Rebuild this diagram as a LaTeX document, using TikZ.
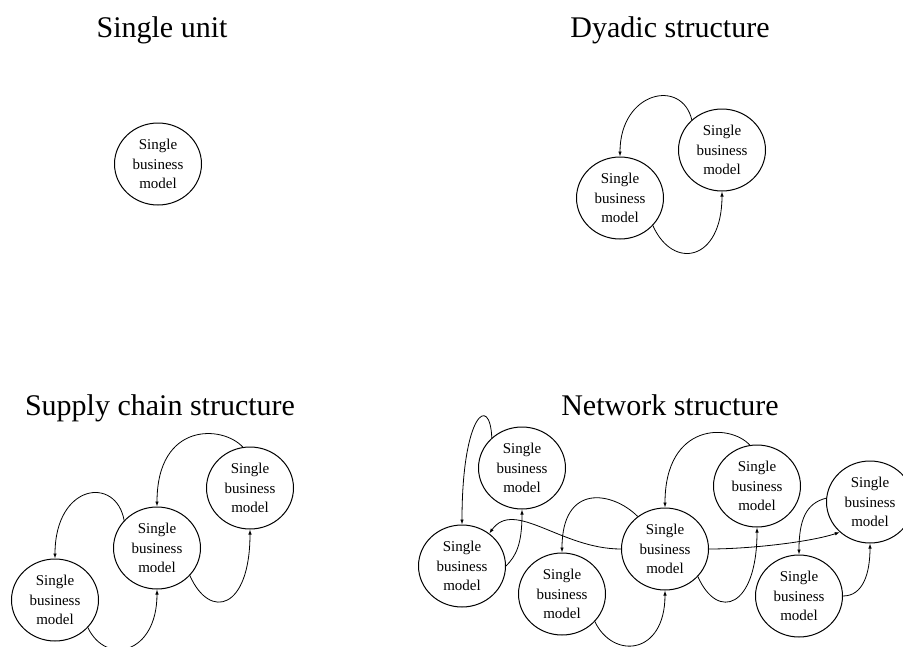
\documentclass[tikz,border=0pt]{standalone}
\usepackage{fontspec}
\setmainfont{Liberation Serif}
\usetikzlibrary{shapes.geometric,arrows.meta}

\tikzset{
  bm/.style={ellipse,draw,line width=1pt,minimum width=87pt,minimum height=82pt,inner sep=0pt,align=center,font=\fontsize{15}{19.5}\selectfont},
  ttl/.style={anchor=base,font=\fontsize{30}{34}\selectfont,inner sep=0pt},
  flow/.style={line width=0.8pt,-{Latex[length=5pt,width=3.5pt]}}
}

\begin{document}
\begin{tikzpicture}[x=1pt,y=-1pt]
\clip (0,0) rectangle (903,646);

\node[ttl] (t1) at (162,37) {Single unit};
\node[ttl] (t2) at (670,37) {Dyadic structure};
\node[ttl] (t3) at (160,415) {Supply chain structure};
\node[ttl] (t4) at (670,415) {Network structure};

\node[bm] (u) at (158,164) {Single\\business\\model};

\node[bm] (dR) at (722,150) {Single\\business\\model};
\node[bm] (dL) at (620,198) {Single\\business\\model};
\draw[flow] (dR.135) .. controls +(-10,-42) and +(0,-65) .. (dL.north);
\draw[flow] (dL.320) .. controls +(20,45) and +(0,70) .. (dR.south);

\node[bm] (sL) at (55,600) {Single\\business\\model};
\node[bm] (sM) at (157,548) {Single\\business\\model};
\node[bm] (sR) at (250,488) {Single\\business\\model};
\draw[flow] (sM.140) .. controls +(-8,-45) and +(0,-75) .. (sL.north);
\draw[flow] (sR.100) .. controls +(-20,-22) and +(0,-85) .. (sM.north);
\draw[flow] (sL.320) .. controls +(18,38) and +(0,65) .. (sM.south);
\draw[flow] (sM.320) .. controls +(20,45) and +(0,80) .. (sR.south);

\node[bm] (n1) at (522,468) {Single\\business\\model};
\node[bm] (n2) at (462,566) {Single\\business\\model};
\node[bm] (n3) at (562,594) {Single\\business\\model};
\node[bm] (n4) at (665,549) {Single\\business\\model};
\node[bm] (n5) at (757,486) {Single\\business\\model};
\node[bm] (n6) at (870,502) {Single\\business\\model};
\node[bm] (n7) at (799,596) {Single\\business\\model};
\draw[flow] (n1.135) .. controls +(-2,-45) and +(0,-110) .. (n2.north);
\draw[flow] (n2.east) .. controls +(10,-10) and +(0,35) .. (n1.south);
\draw[flow] (n4.west) .. controls +(-60,0) and +(25,-35) .. (n2.50);
\draw[flow] (n4.130) .. controls +(-25,-25) and +(0,-70) .. (n3.north);
\draw[flow] (n3.320) .. controls +(18,38) and +(0,65) .. (n4.south);
\draw[flow] (n5.100) .. controls +(-20,-22) and +(0,-85) .. (n4.north);
\draw[flow] (n4.320) .. controls +(20,45) and +(0,80) .. (n5.south);
\draw[flow] (n4.east) .. controls +(40,0) and +(-30,10) .. (n6.225);
\draw[flow] (n6.175) .. controls +(-20,5) and +(0,-35) .. (n7.north);
\draw[flow] (n7.east) .. controls +(20,0) and +(0,30) .. (n6.south);
\end{tikzpicture}
\end{document}
